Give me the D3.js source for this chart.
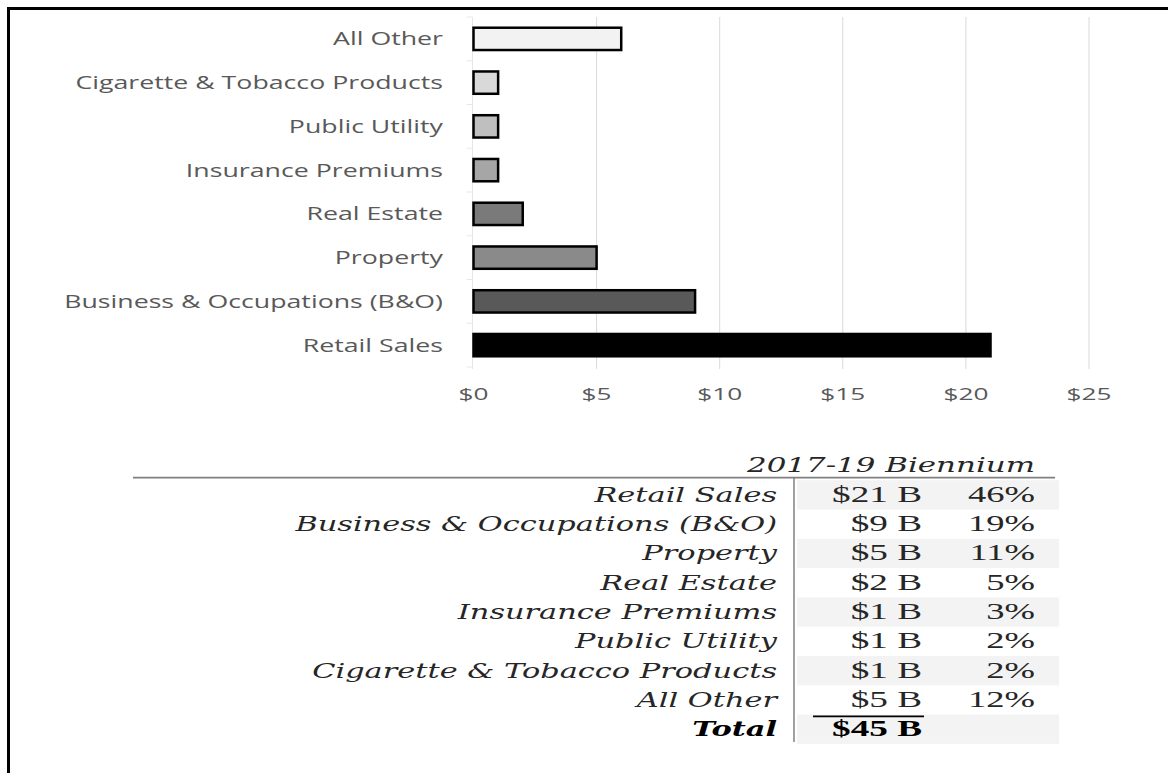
<!DOCTYPE html>
<html>
<head>
<meta charset="utf-8">
<script src="https://cdn.jsdelivr.net/npm/d3@7/dist/d3.min.js"></script>
<style>
  html, body { margin: 0; padding: 0; background: #fff; }
  svg { display: block; }
</style>
</head>
<body>
<svg id="chart" width="1168" height="773"></svg>
<script>
// Revenue sources, top to bottom as drawn in the bar chart ($ billions)
const categories = [
  "All Other",
  "Cigarette & Tobacco Products",
  "Public Utility",
  "Insurance Premiums",
  "Real Estate",
  "Property",
  "Business & Occupations (B&O)",
  "Retail Sales"
];
const revenue = [6, 1, 1, 1, 2, 5, 9, 21];
const xTicks = [0, 5, 10, 15, 20, 25];

// Summary table
const periodLabel = "2017-19 Biennium";
const tableRows = [
  "Retail Sales",
  "Business & Occupations (B&O)",
  "Property",
  "Real Estate",
  "Insurance Premiums",
  "Public Utility",
  "Cigarette & Tobacco Products",
  "All Other"
];
const tableAmounts = [21, 9, 5, 2, 1, 1, 1, 5];
const tableShares = [46, 19, 11, 5, 3, 2, 2, 12];
const tableTotal = 45;

const svg = d3.select("#chart");

// Grey ramp for the bars
const fill = d3.scaleOrdinal()
  .domain(categories)
  .range(["#f2f2f2", "#d9d9d9", "#bfbfbf", "#a6a6a6", "#7a7a7a", "#8a8a8a", "#595959", "#000000"]);

// Horizontally stretch a group of texts so a reference string reaches a given width
function stretch(sel, refText, targetWidth) {
  let k = 1;
  sel.each(function () {
    if (this.textContent === refText) k = targetWidth / this.getComputedTextLength();
  });
  sel.attr("transform", function () {
    return `translate(${this.dataset.x},${this.dataset.y}) scale(${k},1)`;
  });
}

// Frame
svg.append("path")
  .attr("d", "M8.5,773 V8.5 H1168")
  .attr("fill", "none")
  .attr("stroke", "#000")
  .attr("stroke-width", 3);

// ---------- Bar chart ----------
const x = d3.scaleLinear().domain([0, 25]).range([473.5, 1089]);
const y = d3.scaleBand().domain(categories).range([17, 367]).paddingInner(0.49).paddingOuter(0.245);

// Vertical gridlines
svg.append("g")
  .selectAll("line")
  .data(xTicks.filter(t => t > 0))
  .join("line")
  .attr("x1", d => x(d)).attr("x2", d => x(d))
  .attr("y1", 17).attr("y2", 369)
  .attr("stroke", "#d9d9d9")
  .attr("stroke-width", 1);

// Category axis line with faint ticks between bands
const yAxis = svg.append("g");
yAxis.append("line")
  .attr("x1", x(0) - 1).attr("x2", x(0) - 1)
  .attr("y1", 17).attr("y2", 369)
  .attr("stroke", "#e6e6e6");
yAxis.selectAll("line.tick")
  .data(d3.range(categories.length + 1))
  .join("line")
  .attr("class", "tick")
  .attr("x1", x(0) - 7).attr("x2", x(0) - 1)
  .attr("y1", i => 17 + i * y.step()).attr("y2", i => 17 + i * y.step())
  .attr("stroke", "#e6e6e6");

// Bars
svg.append("g")
  .selectAll("rect")
  .data(categories.map((c, i) => ({ c, v: revenue[i] })))
  .join("rect")
  .attr("x", x(0))
  .attr("y", d => y(d.c))
  .attr("width", d => x(d.v) - x(0))
  .attr("height", y.bandwidth())
  .attr("fill", d => fill(d.c))
  .attr("stroke", "#000")
  .attr("stroke-width", 2.5);

// Category labels
const catLabels = svg.append("g")
  .attr("font-family", "'Open Sans', sans-serif")
  .attr("font-size", 17.5)
  .attr("fill", "#595959")
  .attr("text-anchor", "end")
  .selectAll("text")
  .data(categories)
  .join("text")
  .attr("data-x", 443)
  .attr("data-y", d => y(d) + y.bandwidth() / 2 + 6.5)
  .text(d => d);
stretch(catLabels, "Business & Occupations (B&O)", 379);

// Value axis labels
const tickLabels = svg.append("g")
  .attr("font-family", "'Open Sans', sans-serif")
  .attr("font-size", 16.5)
  .attr("fill", "#595959")
  .attr("text-anchor", "middle")
  .selectAll("text")
  .data(xTicks)
  .join("text")
  .attr("data-x", d => x(d))
  .attr("data-y", 399.5)
  .text(d => "$" + d);
stretch(tickLabels, "$25", 45);

// ---------- Summary table ----------
const row0 = 501.7, rowStep = 29.3;
const rowY = i => row0 + i * rowStep;
const labelRight = 777, amountRight = 922, shareRight = 1035;

// Alternating row shading in the value columns
svg.append("g")
  .selectAll("rect")
  .data(d3.range(tableRows.length + 1).filter(i => i % 2 === 0))
  .join("rect")
  .attr("x", 797).attr("width", 262)
  .attr("y", i => rowY(i) - 21.5)
  .attr("height", rowStep)
  .attr("fill", "#f3f3f3");

// Header rule and column divider
svg.append("line")
  .attr("x1", 133).attr("x2", 1055)
  .attr("y1", 477.7).attr("y2", 477.7)
  .attr("stroke", "#7f7f7f").attr("stroke-width", 1.8);
svg.append("line")
  .attr("x1", 794).attr("x2", 794)
  .attr("y1", 478).attr("y2", 742)
  .attr("stroke", "#808080").attr("stroke-width", 1.5);

// Header
const header = svg.append("text")
  .attr("font-family", "'DejaVu Serif', serif")
  .attr("font-style", "italic")
  .attr("font-size", 20.5)
  .attr("fill", "#262626")
  .attr("text-anchor", "end")
  .attr("data-x", shareRight)
  .attr("data-y", 471.7)
  .text(periodLabel);
stretch(header, periodLabel, 288);

// Row labels + total label
const labelData = tableRows.map((t, i) => ({ t, i, bold: false }))
  .concat([{ t: "Total", i: tableRows.length, bold: true }]);
const rowLabels = svg.append("g")
  .attr("font-family", "'DejaVu Serif', serif")
  .attr("font-style", "italic")
  .attr("font-size", 20.5)
  .attr("fill", "#262626")
  .attr("text-anchor", "end")
  .selectAll("text")
  .data(labelData)
  .join("text")
  .attr("font-weight", d => d.bold ? "bold" : null)
  .attr("fill", d => d.bold ? "#000" : null)
  .attr("data-x", labelRight)
  .attr("data-y", d => rowY(d.i))
  .text(d => d.t);
stretch(rowLabels, "Cigarette & Tobacco Products", 465);

// Amounts + total
const amountData = tableAmounts.map((v, i) => ({ t: `$${v} B`, i, bold: false }))
  .concat([{ t: `$${tableTotal} B`, i: tableRows.length, bold: true }]);
const amounts = svg.append("g")
  .attr("font-family", "'Liberation Serif', serif")
  .attr("font-size", 23)
  .attr("fill", "#262626")
  .attr("text-anchor", "end")
  .selectAll("text")
  .data(amountData)
  .join("text")
  .attr("font-weight", d => d.bold ? "bold" : null)
  .attr("fill", d => d.bold ? "#000" : null)
  .attr("data-x", amountRight)
  .attr("data-y", d => rowY(d.i))
  .text(d => d.t);
stretch(amounts, "$21 B", 90);

// Sum rule under the last amount
svg.append("line")
  .attr("x1", 813).attr("x2", 924)
  .attr("y1", rowY(tableRows.length - 1) + 9.5).attr("y2", rowY(tableRows.length - 1) + 9.5)
  .attr("stroke", "#000").attr("stroke-width", 1.8);

// Shares
const shares = svg.append("g")
  .attr("font-family", "'Liberation Serif', serif")
  .attr("font-size", 23)
  .attr("fill", "#262626")
  .attr("text-anchor", "end")
  .selectAll("text")
  .data(tableShares)
  .join("text")
  .attr("data-x", shareRight)
  .attr("data-y", (d, i) => rowY(i))
  .text(d => d + "%");
stretch(shares, "46%", 67);
</script>
</body>
</html>
